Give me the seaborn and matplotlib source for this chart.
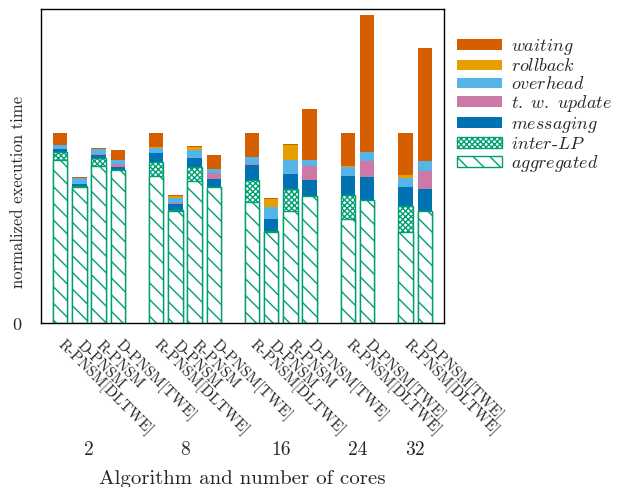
import numpy as np
import pandas as pd
import matplotlib
matplotlib.use('Agg')
import matplotlib.pyplot as plt
import matplotlib.transforms as mtransforms
from matplotlib.patches import Patch
import seaborn as sns

sns.set_style('white')
plt.rcParams['font.family'] = 'serif'
plt.rcParams['font.serif'] = ['cmr10']
plt.rcParams['mathtext.fontset'] = 'cm'
plt.rcParams['axes.formatter.use_mathtext'] = True
plt.rcParams['hatch.linewidth'] = 1.0

# groups of bars: number of cores and the algorithms shown for each
cores = [2, 8, 16, 24, 32]
variants = [
    ['R-PNSM[DLTWE]', 'D-PNSM', 'R-PNSM', 'D-PNSM[TWE]'],
    ['R-PNSM[DLTWE]', 'D-PNSM', 'R-PNSM', 'D-PNSM[TWE]'],
    ['R-PNSM[DLTWE]', 'D-PNSM', 'R-PNSM', 'D-PNSM[TWE]'],
    ['R-PNSM[DLTWE]', 'D-PNSM[TWE]'],
    ['R-PNSM[DLTWE]', 'D-PNSM[TWE]'],
]

# normalized execution time components, one value per bar (left to right)
aggregated = [0.858, 0.717, 0.829, 0.806, 0.774, 0.592, 0.746, 0.717,
              0.636, 0.479, 0.591, 0.671, 0.547, 0.650, 0.482, 0.592]
inter_lp = [0.040, 0.005, 0.042, 0.0, 0.075, 0.003, 0.077, 0.0,
            0.117, 0.008, 0.114, 0.0, 0.128, 0.0, 0.135, 0.0]
messaging = [0.016, 0.010, 0.014, 0.016, 0.046, 0.030, 0.046, 0.042,
             0.079, 0.061, 0.080, 0.082, 0.100, 0.119, 0.100, 0.114]
tw_update = [0.002, 0.002, 0.005, 0.016, 0.0, 0.005, 0.0, 0.031,
             0.007, 0.0, 0.0, 0.075, 0.0, 0.084, 0.0, 0.094]
overhead = [0.021, 0.028, 0.025, 0.021, 0.026, 0.030, 0.042, 0.023,
            0.035, 0.063, 0.075, 0.030, 0.044, 0.047, 0.049, 0.052]
rollback = [0.0, 0.0, 0.0, 0.0, 0.007, 0.010, 0.016, 0.0,
            0.002, 0.042, 0.079, 0.0, 0.010, 0.0, 0.014, 0.0]
waiting = [0.063, 0.005, 0.005, 0.052, 0.072, 0.005, 0.007, 0.072,
           0.124, 0.005, 0.005, 0.268, 0.172, 0.719, 0.220, 0.593]

green = '#009E73'
colors = {
    'waiting': '#D55E00',
    'rollback': '#E69F00',
    'overhead': '#56B4E9',
    't. w. update': '#CC79A7',
    'messaging': '#0072B2',
}
hatches = {'inter-LP': 'xxxxxx', 'aggregated': '\\\\'}

# bar positions: one empty slot between groups
pos = []
group_centers = []
x = 0
for v in variants:
    start = x
    for _ in v:
        pos.append(x)
        x += 1
    group_centers.append((start + x - 1) / 2)
    x += 1
tick_labels = [lab for v in variants for lab in v]

df = pd.DataFrame({
    'pos': pos,
    'aggregated': aggregated,
    'inter-LP': inter_lp,
    'messaging': messaging,
    't. w. update': tw_update,
    'overhead': overhead,
    'rollback': rollback,
    'waiting': waiting,
})
stack = ['aggregated', 'inter-LP', 'messaging', 't. w. update',
         'overhead', 'rollback', 'waiting']
cum = df[stack].cumsum(axis=1)

fig = plt.figure(figsize=(6.28, 4.87), dpi=100)
ax = fig.add_axes([0.0653, 0.336, 0.6417, 0.645])

# draw cumulative bars from the top layer down, each one over the previous
for comp in stack[::-1]:
    if comp in colors:
        sns.barplot(x=df['pos'], y=cum[comp], native_scale=True, width=0.75,
                    color=colors[comp], saturation=1, errorbar=None,
                    linewidth=0, ax=ax)
    else:
        sns.barplot(x=df['pos'], y=cum[comp], native_scale=True, width=0.75,
                    color='white', saturation=1, errorbar=None,
                    edgecolor=green, linewidth=1.0, hatch=hatches[comp], ax=ax)

ax.set_xlim(-1, 20)
ax.set_ylim(0, 1.65)
ax.set_xticks(pos)
ax.set_xticklabels(tick_labels, rotation=-45, ha='left', va='center',
                   rotation_mode='anchor', fontsize=11)
ax.set_yticks([0])
ax.set_yticklabels(['0'], fontsize=13)
ax.tick_params(axis='x', length=0, pad=14)
ax.tick_params(axis='y', length=0, pad=14)
for s in ax.spines.values():
    s.set_color('black')
    s.set_linewidth(1.0)

trans = mtransforms.blended_transform_factory(ax.transData, fig.transFigure)
for c, g in zip(group_centers, cores):
    ax.text(c, 0.076, str(g), transform=trans, ha='center', va='center',
            fontsize=14)

ax.set_xlabel('')
ax.set_ylabel('normalized execution time', fontsize=12)
ax.yaxis.set_label_coords(-0.037, 0.418)
fig.text(0.386, 0.016, 'Algorithm and number of cores', ha='center',
         va='center', fontsize=15)

handles = []
labels = []
for comp in stack[::-1]:
    if comp in colors:
        handles.append(Patch(facecolor=colors[comp], edgecolor='none'))
    else:
        handles.append(Patch(facecolor='white', edgecolor=green,
                             hatch=hatches[comp]))
    if comp == 'inter-LP':
        labels.append(r'$\mathit{inter}$-$\mathit{LP}$')
    else:
        labels.append('$\\mathit{' + comp.replace(' ', '\\ ') + '}$')

fig.legend(handles, labels, loc='upper left', bbox_to_anchor=(0.727, 0.925),
           frameon=False, fontsize=13, borderpad=0, borderaxespad=0,
           handlelength=2.5, handleheight=0.55, labelspacing=0.05,
           handletextpad=0.5)

fig.savefig('out.png', dpi=100)
